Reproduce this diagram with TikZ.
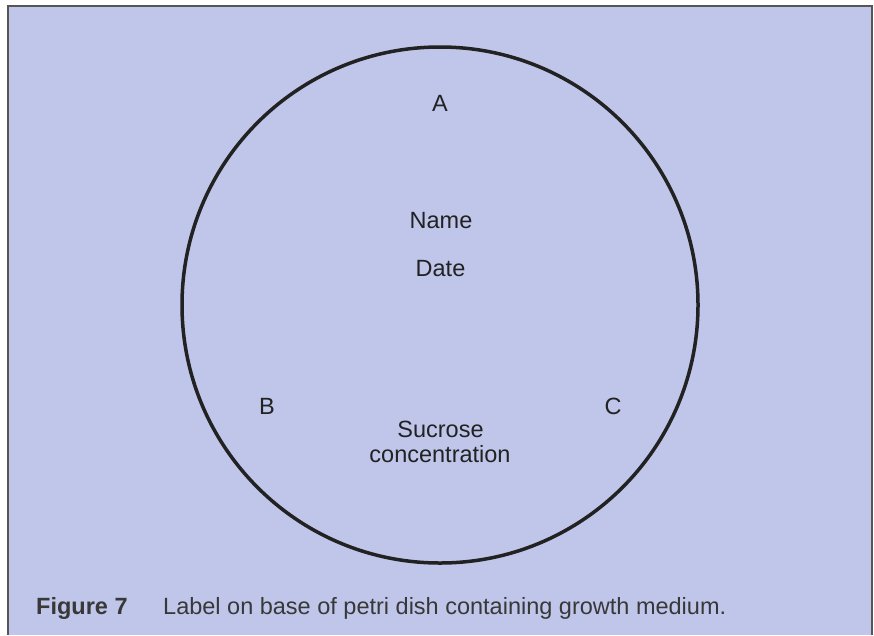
\documentclass[tikz,border=0pt]{standalone}
\usepackage{fontspec}
\setmainfont{Liberation Sans}
\definecolor{panelblue}{HTML}{BFC6EA}
\definecolor{framegrey}{HTML}{555555}
\definecolor{inkdark}{HTML}{222222}
\tikzset{
  dishlabel/.style={font=\fontsize{23.5}{25}\selectfont, text=inkdark, inner sep=0pt, anchor=base},
  captext/.style={font=\fontsize{23.5}{25}\selectfont, text=inkdark!90, inner sep=0pt, anchor=base west}
}
\begin{document}
\begin{tikzpicture}[x=1pt,y=-1pt]
\useasboundingbox (0,0) rectangle (874,635);
\fill[panelblue] (8,6) rectangle (872,635);
\draw[line width=2pt,framegrey] (8,635) -- (8,6) -- (872,6) -- (872,635);

% petri dish
\draw[line width=3.5pt,inkdark] (440,305) circle (258pt);

\node[dishlabel] (a) at (440,111) {A};
\node[dishlabel] (name) at (441,228) {Name};
\node[dishlabel] (date) at (440.5,276) {Date};
\node[dishlabel] (b) at (267,414) {B};
\node[dishlabel] (c) at (613,414) {C};
\node[dishlabel] (sucrose) at (440.5,437) {Sucrose};
\node[dishlabel] (conc) at (440,462) {concentration};

% caption
\node[captext,font=\fontsize{23.5}{25}\selectfont\bfseries] (fig) at (36,614) {Figure 7};
\node[captext] (caption) at (163,614) {Label on base of petri dish containing growth medium.};
\end{tikzpicture}
\end{document}
